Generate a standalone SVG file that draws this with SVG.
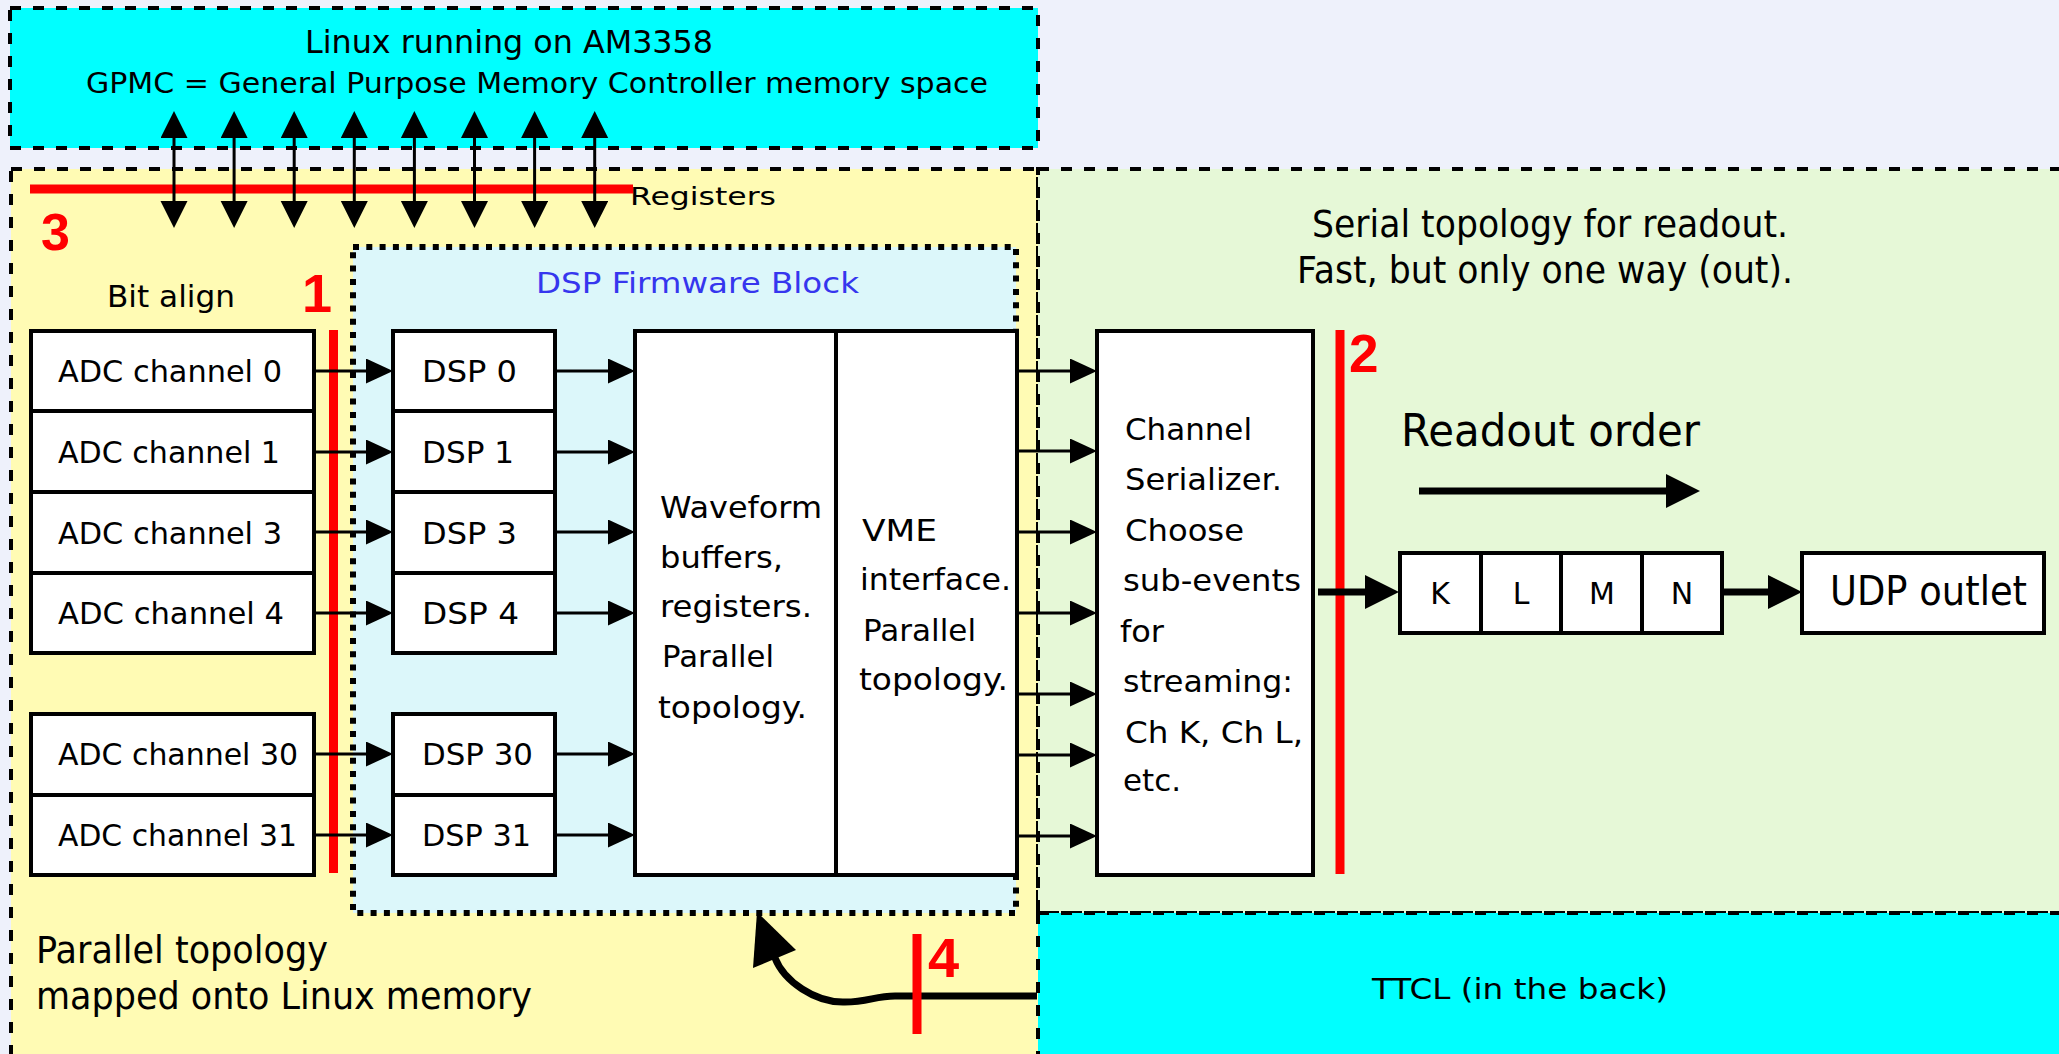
<svg xmlns="http://www.w3.org/2000/svg" width="2059" height="1054" viewBox="0 0 2059 1054">
<style>
.t{font-family:"DejaVu Sans","Liberation Sans",sans-serif;fill:#000}
.blue{fill:#3636ee}
.rd{font-family:"Liberation Sans",Arial,sans-serif;font-weight:bold;fill:#ff0000}
.box{fill:#fff;stroke:#000;stroke-width:4}
.dash{fill:none;stroke:#000;stroke-width:4;stroke-dasharray:11 12}
.dot{fill:none;stroke:#000;stroke-width:6;stroke-dasharray:6 7.3}
.c{stroke:#000;stroke-width:3;fill:none}
.cb{stroke:#000;stroke-width:7;fill:none}
.redl{stroke:#ff0000;stroke-width:9;fill:none}
</style>
<defs>
<marker id="ms" markerUnits="userSpaceOnUse" markerWidth="28" markerHeight="26" refX="19" refY="12.5" orient="auto"><path d="M0,0 L27,12.5 L0,25 z" fill="#000"/></marker>
<marker id="mv" markerUnits="userSpaceOnUse" markerWidth="28" markerHeight="28" refX="19" refY="13.5" orient="auto-start-reverse"><path d="M0,0 L27,13.5 L0,27 z" fill="#000"/></marker>
<marker id="mb" markerUnits="userSpaceOnUse" markerWidth="36" markerHeight="36" refX="26" refY="17" orient="auto"><path d="M0,0 L34,17 L0,34 z" fill="#000"/></marker>
</defs>

<rect x="0" y="0" width="2059" height="1054" fill="#eef1fb"/>

<g id="linux">
<rect x="10" y="8" width="1028" height="140" fill="#00ffff"/>
<rect x="10" y="8" width="1028" height="140" class="dash"/>
<text class="t" x="305" y="53" font-size="32" textLength="408" lengthAdjust="spacingAndGlyphs">Linux running on AM3358</text>
<text class="t" x="86" y="93" font-size="27.5" textLength="902" lengthAdjust="spacingAndGlyphs">GPMC = General Purpose Memory Controller memory space</text>
</g>

<g id="parallel-zone">
<rect x="11" y="169" width="1027" height="900" fill="#fffbb4"/>
<rect x="11" y="169" width="1027" height="900" class="dash"/>
<text class="t" x="36" y="963" font-size="37" textLength="292" lengthAdjust="spacingAndGlyphs">Parallel topology</text>
<text class="t" x="36" y="1009" font-size="37" textLength="496" lengthAdjust="spacingAndGlyphs">mapped onto Linux memory</text>
<text class="t" x="630" y="205" font-size="25" textLength="146" lengthAdjust="spacingAndGlyphs">Registers</text>
<text class="t" x="107" y="307" font-size="30" textLength="128" lengthAdjust="spacingAndGlyphs">Bit align</text>
</g>

<g id="serial-zone">
<rect x="1038" y="169" width="1030" height="744" fill="#e6f8d7"/>
<rect x="1038" y="169" width="1030" height="744" class="dash"/>
<text class="t" x="1312" y="237" font-size="37" textLength="476" lengthAdjust="spacingAndGlyphs">Serial topology for readout.</text>
<text class="t" x="1297" y="283" font-size="37" textLength="496" lengthAdjust="spacingAndGlyphs">Fast, but only one way (out).</text>
<text class="t" x="1401" y="446" font-size="44" textLength="299" lengthAdjust="spacingAndGlyphs">Readout order</text>
</g>

<g id="ttcl">
<rect x="1038" y="913" width="1030" height="160" fill="#00ffff"/>
<rect x="1038" y="913" width="1030" height="160" class="dash"/>
<text class="t" x="1372" y="999" font-size="29" textLength="296" lengthAdjust="spacingAndGlyphs">TTCL (in the back)</text>
</g>

<g id="dsp-firmware-block">
<rect x="353" y="247" width="663" height="666" fill="#dcf7fa"/>
<rect x="353" y="247" width="663" height="666" class="dot"/>
<text class="t blue" x="536" y="293" font-size="29" textLength="323" lengthAdjust="spacingAndGlyphs">DSP Firmware Block</text>
</g>

<g id="adc-0"><rect class="box" x="31" y="331" width="283" height="80"/><text class="t" x="58" y="382" font-size="30" textLength="224" lengthAdjust="spacingAndGlyphs">ADC channel 0</text></g>
<g id="adc-1"><rect class="box" x="31" y="411" width="283" height="81"/><text class="t" x="58" y="463" font-size="30" textLength="222" lengthAdjust="spacingAndGlyphs">ADC channel 1</text></g>
<g id="adc-3"><rect class="box" x="31" y="492" width="283" height="81"/><text class="t" x="58" y="544" font-size="30" textLength="224" lengthAdjust="spacingAndGlyphs">ADC channel 3</text></g>
<g id="adc-4"><rect class="box" x="31" y="573" width="283" height="80"/><text class="t" x="58" y="624" font-size="30" textLength="226" lengthAdjust="spacingAndGlyphs">ADC channel 4</text></g>
<g id="adc-30"><rect class="box" x="31" y="714" width="283" height="81"/><text class="t" x="58" y="765" font-size="30" textLength="240" lengthAdjust="spacingAndGlyphs">ADC channel 30</text></g>
<g id="adc-31"><rect class="box" x="31" y="795" width="283" height="80"/><text class="t" x="58" y="846" font-size="30" textLength="239" lengthAdjust="spacingAndGlyphs">ADC channel 31</text></g>

<g id="dsp-0"><rect class="box" x="393" y="331" width="162" height="80"/><text class="t" x="422" y="382" font-size="30" textLength="95" lengthAdjust="spacingAndGlyphs">DSP 0</text></g>
<g id="dsp-1"><rect class="box" x="393" y="411" width="162" height="81"/><text class="t" x="422" y="463" font-size="30" textLength="92" lengthAdjust="spacingAndGlyphs">DSP 1</text></g>
<g id="dsp-3"><rect class="box" x="393" y="492" width="162" height="81"/><text class="t" x="422" y="544" font-size="30" textLength="95" lengthAdjust="spacingAndGlyphs">DSP 3</text></g>
<g id="dsp-4"><rect class="box" x="393" y="573" width="162" height="80"/><text class="t" x="422" y="624" font-size="30" textLength="97" lengthAdjust="spacingAndGlyphs">DSP 4</text></g>
<g id="dsp-30"><rect class="box" x="393" y="714" width="162" height="81"/><text class="t" x="422" y="765" font-size="30" textLength="111" lengthAdjust="spacingAndGlyphs">DSP 30</text></g>
<g id="dsp-31"><rect class="box" x="393" y="795" width="162" height="80"/><text class="t" x="422" y="846" font-size="30" textLength="109" lengthAdjust="spacingAndGlyphs">DSP 31</text></g>

<g id="waveform-buffers">
<rect class="box" x="635" y="331" width="201" height="544"/>
<text class="t" font-size="31">
<tspan x="660" y="518" textLength="162" lengthAdjust="spacingAndGlyphs">Waveform</tspan>
<tspan x="660" y="568" textLength="123" lengthAdjust="spacingAndGlyphs">buffers,</tspan>
<tspan x="660" y="617" textLength="152" lengthAdjust="spacingAndGlyphs">registers.</tspan>
<tspan x="662" y="667" textLength="112" lengthAdjust="spacingAndGlyphs">Parallel</tspan>
<tspan x="658" y="718" textLength="149" lengthAdjust="spacingAndGlyphs">topology.</tspan>
</text>
</g>

<g id="vme-interface">
<rect class="box" x="836" y="331" width="181" height="544"/>
<text class="t" font-size="31">
<tspan x="862" y="541" textLength="75" lengthAdjust="spacingAndGlyphs">VME</tspan>
<tspan x="860" y="590" textLength="151" lengthAdjust="spacingAndGlyphs">interface.</tspan>
<tspan x="863" y="641" textLength="113" lengthAdjust="spacingAndGlyphs">Parallel</tspan>
<tspan x="859" y="690" textLength="149" lengthAdjust="spacingAndGlyphs">topology.</tspan>
</text>
</g>

<g id="channel-serializer">
<rect class="box" x="1097" y="331" width="216" height="544"/>
<text class="t" font-size="31">
<tspan x="1125" y="440" textLength="127" lengthAdjust="spacingAndGlyphs">Channel</tspan>
<tspan x="1125" y="490" textLength="157" lengthAdjust="spacingAndGlyphs">Serializer.</tspan>
<tspan x="1125" y="541" textLength="119" lengthAdjust="spacingAndGlyphs">Choose</tspan>
<tspan x="1123" y="591" textLength="178" lengthAdjust="spacingAndGlyphs">sub-events</tspan>
<tspan x="1120" y="642" textLength="44" lengthAdjust="spacingAndGlyphs">for</tspan>
<tspan x="1123" y="692" textLength="170" lengthAdjust="spacingAndGlyphs">streaming:</tspan>
<tspan x="1125" y="743" textLength="178" lengthAdjust="spacingAndGlyphs">Ch K, Ch L,</tspan>
<tspan x="1123" y="791" textLength="58" lengthAdjust="spacingAndGlyphs">etc.</tspan>
</text>
</g>

<g id="readout-queue">
<rect class="box" x="1400" y="553" width="81" height="80"/>
<rect class="box" x="1481" y="553" width="80" height="80"/>
<rect class="box" x="1561" y="553" width="81" height="80"/>
<rect class="box" x="1642" y="553" width="80" height="80"/>
<text class="t" font-size="30" text-anchor="middle"><tspan x="1440" y="604">K</tspan><tspan x="1521" y="604">L</tspan><tspan x="1602" y="604">M</tspan><tspan x="1682" y="604">N</tspan></text>
</g>

<g id="udp-outlet">
<rect class="box" x="1802" y="553" width="242" height="80"/>
<text class="t" x="1830" y="605" font-size="40" textLength="197" lengthAdjust="spacingAndGlyphs">UDP outlet</text>
</g>

<g id="red-markers">
<line class="redl" x1="30" y1="189" x2="633" y2="189" stroke-width="10"/>
<line class="redl" x1="333.5" y1="330" x2="333.5" y2="873"/>
<line class="redl" x1="1340" y1="330" x2="1340" y2="874"/>
<text class="rd" x="41" y="250" font-size="52">3</text>
<text class="rd" x="302" y="312" font-size="54">1</text>
<text class="rd" x="1349" y="372" font-size="53">2</text>
</g>

<g id="connectors">
<line class="c" x1="174" y1="119" x2="174" y2="220" marker-start="url(#mv)" marker-end="url(#mv)"/>
<line class="c" x1="234.1" y1="119" x2="234.1" y2="220" marker-start="url(#mv)" marker-end="url(#mv)"/>
<line class="c" x1="294.2" y1="119" x2="294.2" y2="220" marker-start="url(#mv)" marker-end="url(#mv)"/>
<line class="c" x1="354.3" y1="119" x2="354.3" y2="220" marker-start="url(#mv)" marker-end="url(#mv)"/>
<line class="c" x1="414.4" y1="119" x2="414.4" y2="220" marker-start="url(#mv)" marker-end="url(#mv)"/>
<line class="c" x1="474.5" y1="119" x2="474.5" y2="220" marker-start="url(#mv)" marker-end="url(#mv)"/>
<line class="c" x1="534.6" y1="119" x2="534.6" y2="220" marker-start="url(#mv)" marker-end="url(#mv)"/>
<line class="c" x1="594.7" y1="119" x2="594.7" y2="220" marker-start="url(#mv)" marker-end="url(#mv)"/>

<line class="c" x1="314" y1="371" x2="385" y2="371" marker-end="url(#ms)"/>
<line class="c" x1="314" y1="452" x2="385" y2="452" marker-end="url(#ms)"/>
<line class="c" x1="314" y1="532" x2="385" y2="532" marker-end="url(#ms)"/>
<line class="c" x1="314" y1="613" x2="385" y2="613" marker-end="url(#ms)"/>
<line class="c" x1="314" y1="754" x2="385" y2="754" marker-end="url(#ms)"/>
<line class="c" x1="314" y1="835" x2="385" y2="835" marker-end="url(#ms)"/>

<line class="c" x1="555" y1="371" x2="627" y2="371" marker-end="url(#ms)"/>
<line class="c" x1="555" y1="452" x2="627" y2="452" marker-end="url(#ms)"/>
<line class="c" x1="555" y1="532" x2="627" y2="532" marker-end="url(#ms)"/>
<line class="c" x1="555" y1="613" x2="627" y2="613" marker-end="url(#ms)"/>
<line class="c" x1="555" y1="754" x2="627" y2="754" marker-end="url(#ms)"/>
<line class="c" x1="555" y1="835" x2="627" y2="835" marker-end="url(#ms)"/>

<line class="c" x1="1017" y1="371" x2="1089" y2="371" marker-end="url(#ms)"/>
<line class="c" x1="1017" y1="451" x2="1089" y2="451" marker-end="url(#ms)"/>
<line class="c" x1="1017" y1="532" x2="1089" y2="532" marker-end="url(#ms)"/>
<line class="c" x1="1017" y1="613" x2="1089" y2="613" marker-end="url(#ms)"/>
<line class="c" x1="1017" y1="694" x2="1089" y2="694" marker-end="url(#ms)"/>
<line class="c" x1="1017" y1="755" x2="1089" y2="755" marker-end="url(#ms)"/>
<line class="c" x1="1017" y1="836" x2="1089" y2="836" marker-end="url(#ms)"/>

<line class="cb" x1="1318" y1="592" x2="1391" y2="592" marker-end="url(#mb)"/>
<line class="cb" x1="1722" y1="592" x2="1794" y2="592" marker-end="url(#mb)"/>
<line class="cb" x1="1419" y1="491" x2="1692" y2="491" stroke-width="9" marker-end="url(#mb)"/>

<path class="cb" stroke-width="8" d="M1037,996 L895,996 C875,996 868,1002 845,1002 C815,1003 784,981 775,958"/>
<polygon points="757,912 753,968 796,950" fill="#000"/>
</g>

<g id="red-marker-4">
<line class="redl" x1="917" y1="934" x2="917" y2="1034"/>
<text class="rd" x="928" y="977" font-size="56">4</text>
</g>
</svg>
